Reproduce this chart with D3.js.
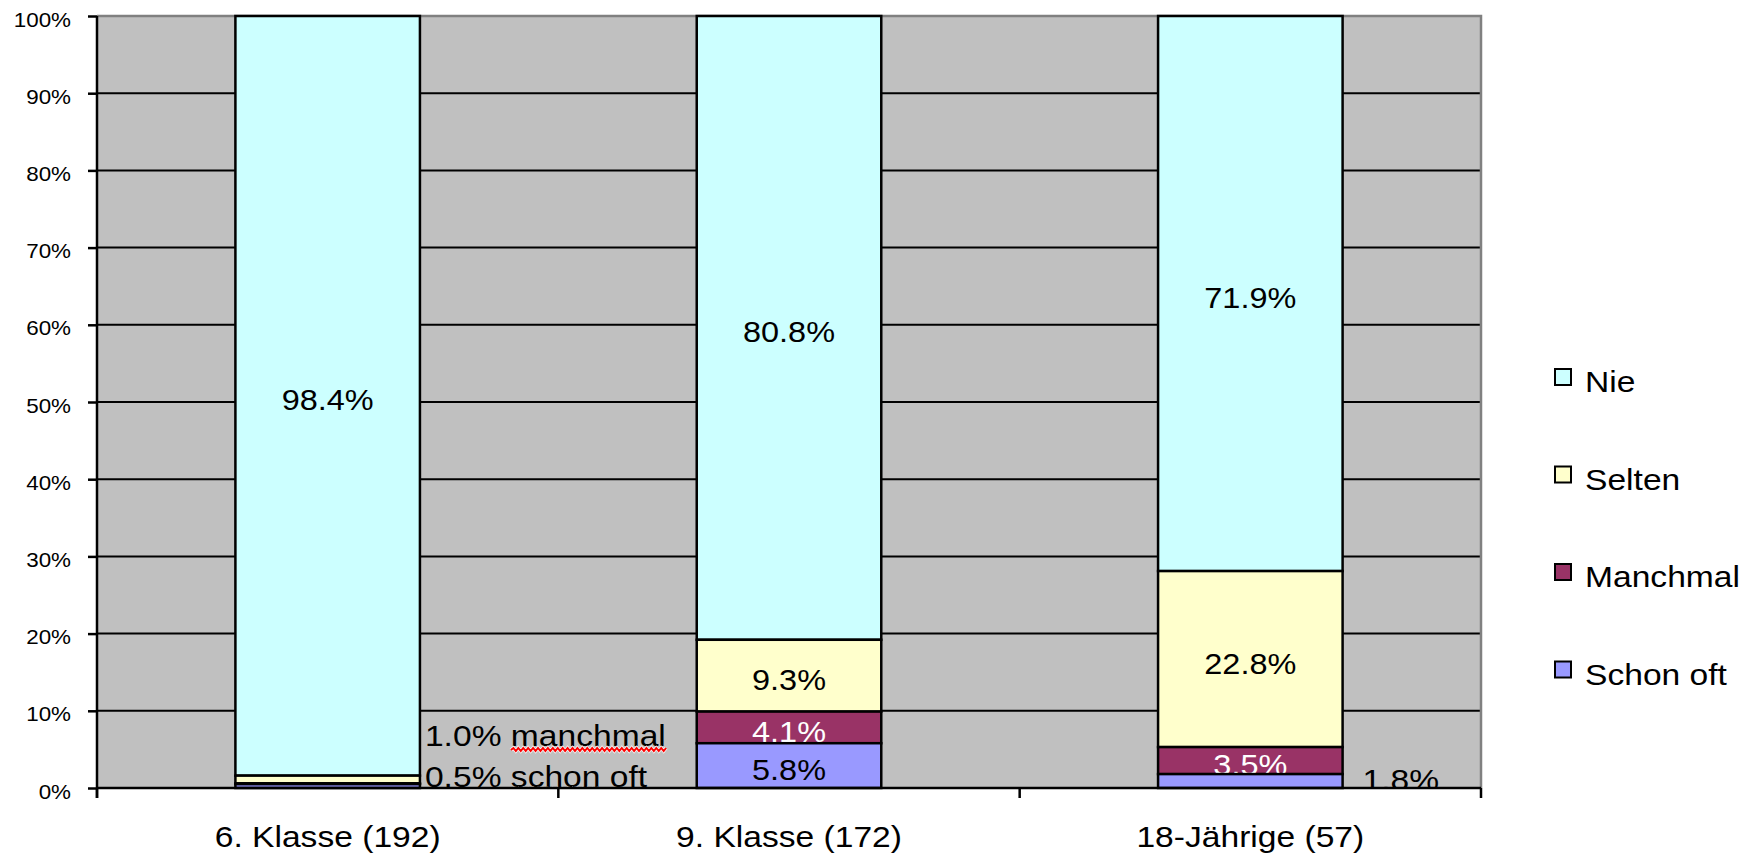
<!DOCTYPE html>
<html>
<head>
<meta charset="utf-8">
<script src="https://cdn.jsdelivr.net/npm/d3@7"></script>
<style>
  html, body { margin: 0; padding: 0; background: #ffffff; }
  svg { display: block; }
  text { font-family: "Liberation Sans", Arial, sans-serif; }
</style>
</head>
<body>
<svg id="chart" width="1756" height="855"></svg>
<script>
// ---- data ----
const categories = ["6. Klasse (192)", "9. Klasse (172)", "18-Jährige (57)"];
const seriesNames = ["Schon oft", "Manchmal", "Selten", "Nie"];   // stacking order, bottom to top
const schonOft = [0.5, 5.8, 1.8];
const manchmal = [0.1, 4.1, 3.5];
const selten   = [1.0, 9.3, 22.8];
const nie      = [98.4, 80.8, 71.9];
const seriesColors = ["#9999FF", "#993366", "#FFFFCC", "#CCFFFF"];
const labelColors  = ["#000000", "#FFFFFF", "#000000", "#000000"];
const yTickValues = [0, 10, 20, 30, 40, 50, 60, 70, 80, 90, 100];
const legendOrder = ["Nie", "Selten", "Manchmal", "Schon oft"];
const sideNoteCats  = [0, 0, 2];
const sideNoteTexts = ["1.0% manchmal", "0.5% schon oft", "1.8%"];
const sideNoteWavy  = ["manchmal", "schon", null];

// ---- layout ----
const SX = 1.12; // horizontal text stretch of the original rendering
const plot = { left: 97, right: 1481, top: 16, bottom: 788 };
const svg = d3.select("#chart");

const x = d3.scaleBand().domain(categories).range([plot.left, plot.right])
  .paddingInner(0.6).paddingOuter(0.3);
const y = d3.scaleLinear().domain([0, 100]).range([plot.bottom, plot.top]);

const rows = categories.map((c, i) => ({
  cat: c, "Schon oft": schonOft[i], "Manchmal": manchmal[i], "Selten": selten[i], "Nie": nie[i]
}));
const stacked = d3.stack().keys(seriesNames)(rows);
const color = d3.scaleOrdinal().domain(seriesNames).range(seriesColors);
const labelColor = d3.scaleOrdinal().domain(seriesNames).range(labelColors);

// background
svg.append("rect").attr("x", plot.left).attr("y", plot.top)
  .attr("width", plot.right - plot.left).attr("height", plot.bottom - plot.top)
  .attr("fill", "#C0C0C0");

// gridlines
svg.append("g").selectAll("line").data(yTickValues.filter(v => v > 0 && v < 100)).join("line")
  .attr("x1", plot.left).attr("x2", plot.right)
  .attr("y1", d => y(d)).attr("y2", d => y(d))
  .attr("stroke", "#000").attr("stroke-width", 2);

// top & right border (gray)
svg.append("path")
  .attr("d", `M${plot.left},${y(100)}H${plot.right}V${plot.bottom}`)
  .attr("fill", "none").attr("stroke", "#808080").attr("stroke-width", 2.5);

const fmt = d => d3.format(".1f")(d) + "%";

// clip for labels
svg.append("clipPath").attr("id", "plotClip").append("rect")
  .attr("x", plot.left).attr("y", plot.top)
  .attr("width", plot.right - plot.left).attr("height", plot.bottom - plot.top);

// bars: draw top series first so lower series cover label overflow
const barsG = svg.append("g");
stacked.slice().reverse().forEach(layer => {
  const g = barsG.append("g");
  g.selectAll("rect").data(layer).join("rect")
    .attr("x", d => x(d.data.cat))
    .attr("width", x.bandwidth())
    .attr("y", d => y(d[1]))
    .attr("height", d => y(d[0]) - y(d[1]))
    .attr("fill", color(layer.key))
    .attr("stroke", "#000").attr("stroke-width", 2.5);
  g.selectAll("text").data(layer.filter(d => (d[1] - d[0]) >= 3)).join("text")
    .attr("transform", d => `translate(${x(d.data.cat) + x.bandwidth() / 2},${(y(d[0]) + y(d[1])) / 2 + 14.5}) scale(${SX},1)`)
    .attr("text-anchor", "middle")
    .attr("font-size", 29)
    .attr("fill", labelColor(layer.key))
    .text(d => fmt(d[1] - d[0]));
});

// side notes (outside labels)
const notesG = svg.append("g").attr("clip-path", "url(#plotClip)");
const noteIdx = sideNoteTexts.map((t, i) => i);
const notePos = noteIdx.map(i => {
  const c = sideNoteCats[i];
  const sameCat = noteIdx.filter(j => sideNoteCats[j] === c);
  const row = sameCat.length - 1 - sameCat.indexOf(i);
  const dx = c === 2 ? 20 : 5;
  return { x: x(categories[c]) + x.bandwidth() + dx, y: y(0) - 1 - row * 41 + (c === 2 ? 3 : 0) };
});
noteIdx.forEach(i => {
  const g = notesG.append("g")
    .attr("transform", `translate(${notePos[i].x},${notePos[i].y}) scale(${SX},1)`);
  const t = g.append("text").attr("font-size", 30).attr("fill", "#000").text(sideNoteTexts[i]);
  const w = sideNoteWavy[i];
  if (w) {
    const node = t.node();
    const s = sideNoteTexts[i].indexOf(w);
    let x0 = 0;
    for (let k = 0; k < s; k++) x0 += node.getSubStringLength(k, 1);
    const ww = node.getSubStringLength(s, w.length);
    let p = `M${x0},${4}`;
    let up = true;
    for (let xx = x0 + 2.2; xx <= x0 + ww + 1; xx += 2.2) { p += `L${xx},${up ? 2 : 5}`; up = !up; }
    g.append("path").attr("d", p).attr("fill", "none").attr("stroke", "#FFFFFF").attr("stroke-width", 3.2).attr("opacity", 0.8);
    g.append("path").attr("d", p).attr("fill", "none").attr("stroke", "#FF0000").attr("stroke-width", 1.7);
  }
});

// y axis
const yAxis = svg.append("g").attr("transform", `translate(${plot.left},0)`)
  .call(d3.axisLeft(y).tickValues(yTickValues).tickFormat(d => d + "%").tickSize(9).tickSizeOuter(0));
yAxis.select(".domain").attr("stroke", "#000").attr("stroke-width", 2.5)
  .attr("d", `M0,${plot.top}V${plot.bottom + 10}`);
yAxis.selectAll(".tick line").attr("stroke", "#000").attr("stroke-width", 2.5);
yAxis.selectAll(".tick text")
  .attr("x", -26 / SX).attr("dy", "0.5em")
  .attr("transform", `scale(${SX},1)`)
  .attr("font-size", 20).attr("fill", "#000")
  .attr("font-family", "'Liberation Sans', Arial, sans-serif");

// x axis
svg.append("line").attr("x1", plot.left).attr("x2", plot.right)
  .attr("y1", plot.bottom).attr("y2", plot.bottom)
  .attr("stroke", "#000").attr("stroke-width", 2.5);
const gap = x.step() - x.bandwidth();
const boundaries = categories.map(c => x(c) - gap / 2).concat([x(categories[categories.length - 1]) + x.bandwidth() + gap / 2]);
svg.append("g").selectAll("line").data(boundaries).join("line")
  .attr("x1", d => d).attr("x2", d => d)
  .attr("y1", plot.bottom).attr("y2", plot.bottom + 10)
  .attr("stroke", "#000").attr("stroke-width", 2.5);
svg.append("g").selectAll("text").data(categories).join("text")
  .attr("transform", d => `translate(${x(d) + x.bandwidth() / 2},847) scale(${SX},1)`)
  .attr("text-anchor", "middle")
  .attr("font-size", 30).attr("fill", "#000")
  .text(d => d);

// legend
const legend = svg.append("g");
legendOrder.forEach((name, i) => {
  const cy = 377 + i * 97.5;
  legend.append("rect").attr("x", 1555).attr("y", cy - 8).attr("width", 16).attr("height", 16)
    .attr("fill", color(name)).attr("stroke", "#000").attr("stroke-width", 2);
  legend.append("text")
    .attr("transform", `translate(1585,${cy + 15}) scale(${SX},1)`)
    .attr("font-size", 30).attr("fill", "#000").text(name);
});
</script>
</body>
</html>
